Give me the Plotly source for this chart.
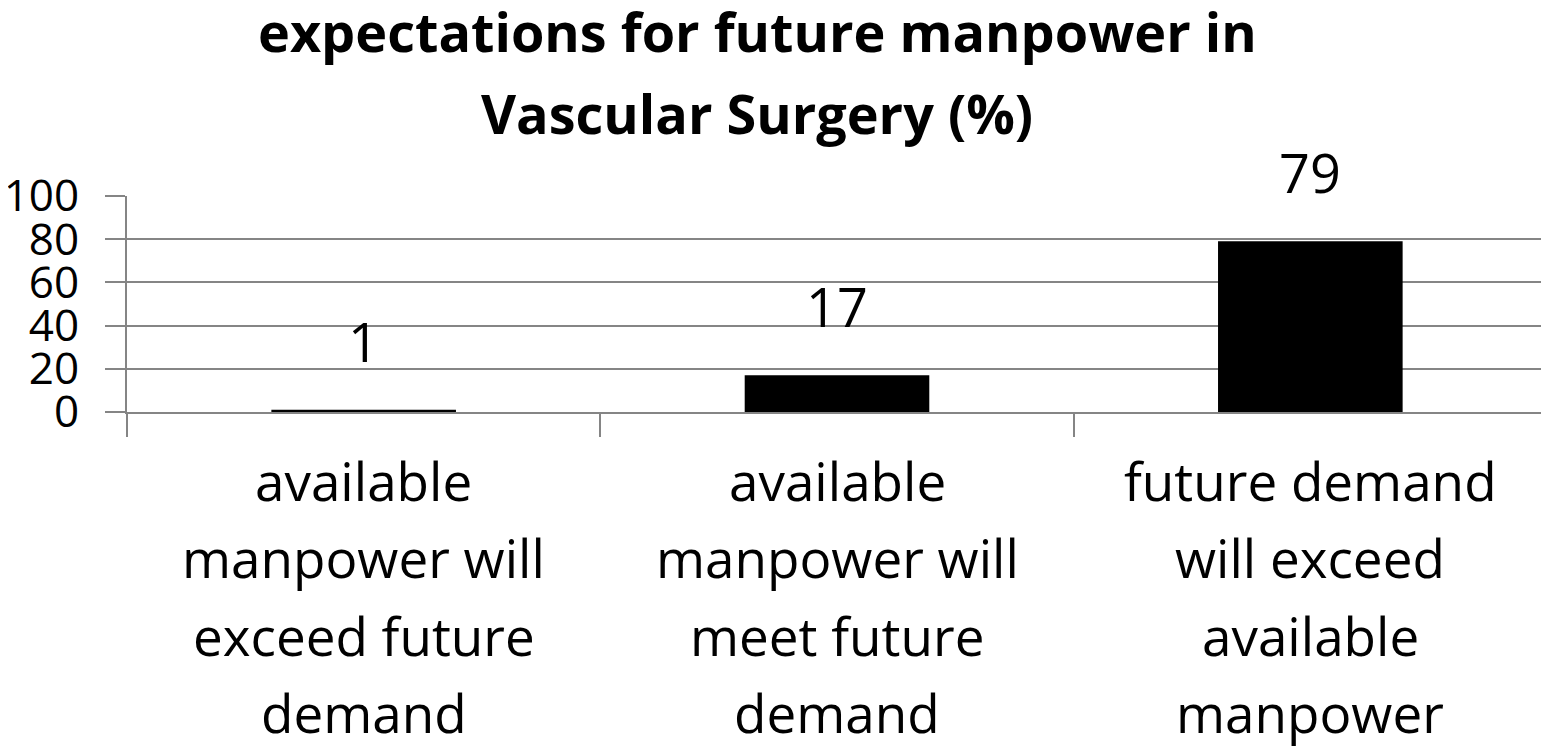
import plotly.graph_objects as go

title_lines = ["expectations for future manpower in", "Vascular Surgery (%)"]
categories = [
    "available manpower will exceed future demand",
    "available manpower will meet future demand",
    "future demand will exceed available manpower",
]
category_lines = [
    ["available", "manpower will", "exceed future", "demand"],
    ["available", "manpower will", "meet future", "demand"],
    ["future demand", "will exceed", "available", "manpower"],
]
values = [1, 17, 79]
y_ticks = [0, 20, 40, 60, 80, 100]

FONT = "Open Sans"
GRAY = "#858585"

fig = go.Figure()
fig.add_trace(go.Bar(
    x=categories, y=values, width=0.39,
    marker=dict(color="black", line=dict(width=0)),
    showlegend=False, hoverinfo="skip",
))

annotations = []
# data labels
for c, v in zip(categories, values):
    annotations.append(dict(
        x=c, y=v, xref="x", yref="y", text=str(v), showarrow=False,
        yanchor="bottom", yshift=30, font=dict(family=FONT, size=54, color="black"),
    ))
# category labels, one per line
line_offsets = [68, 145, 223, 300]
for c, lines in zip(categories, category_lines):
    for k, ln in enumerate(lines):
        annotations.append(dict(
            x=c, y=0, xref="x", yref="paper", text=ln, showarrow=False,
            yanchor="middle", yshift=-line_offsets[k],
            font=dict(family=FONT, size=53, color="black"),
        ))
# title lines
title_y = [31, 113]
for ln, ty in zip(title_lines, title_y):
    annotations.append(dict(
        x=0.4437, y=1, xref="paper", yref="paper", text="<b>" + ln + "</b>",
        showarrow=False, yanchor="middle", yshift=196 - ty,
        font=dict(family=FONT, size=54, color="black"),
        xanchor="center",
    ))

# page body has an 8px margin, so the figure is drawn 8px smaller / shifted
fig.update_layout(
    width=1541, height=740,
    margin=dict(l=119, r=2, t=188, b=336, autoexpand=False),
    paper_bgcolor="white", plot_bgcolor="white",
    annotations=annotations,
    font=dict(family=FONT, color="black"),
    xaxis=dict(
        type="category", range=[-0.5, 2.5], automargin=False,
        showgrid=False, zeroline=False,
        showline=True, linecolor=GRAY, linewidth=2,
        ticks="outside", tickson="boundaries", ticklen=23, tickwidth=2, tickcolor=GRAY,
        showticklabels=False,
    ),
    yaxis=dict(
        range=[0, 100], tickvals=y_ticks, automargin=False,
        showgrid=True, gridcolor=GRAY, gridwidth=2,
        zeroline=False,
        showline=True, linecolor=GRAY, linewidth=2,
        ticks="outside", ticklen=20, tickwidth=2, tickcolor=GRAY,
        tickfont=dict(family=FONT, size=44, color="black"),
        ticklabelstandoff=17,
    ),
)

fig.write_html("out.html")
